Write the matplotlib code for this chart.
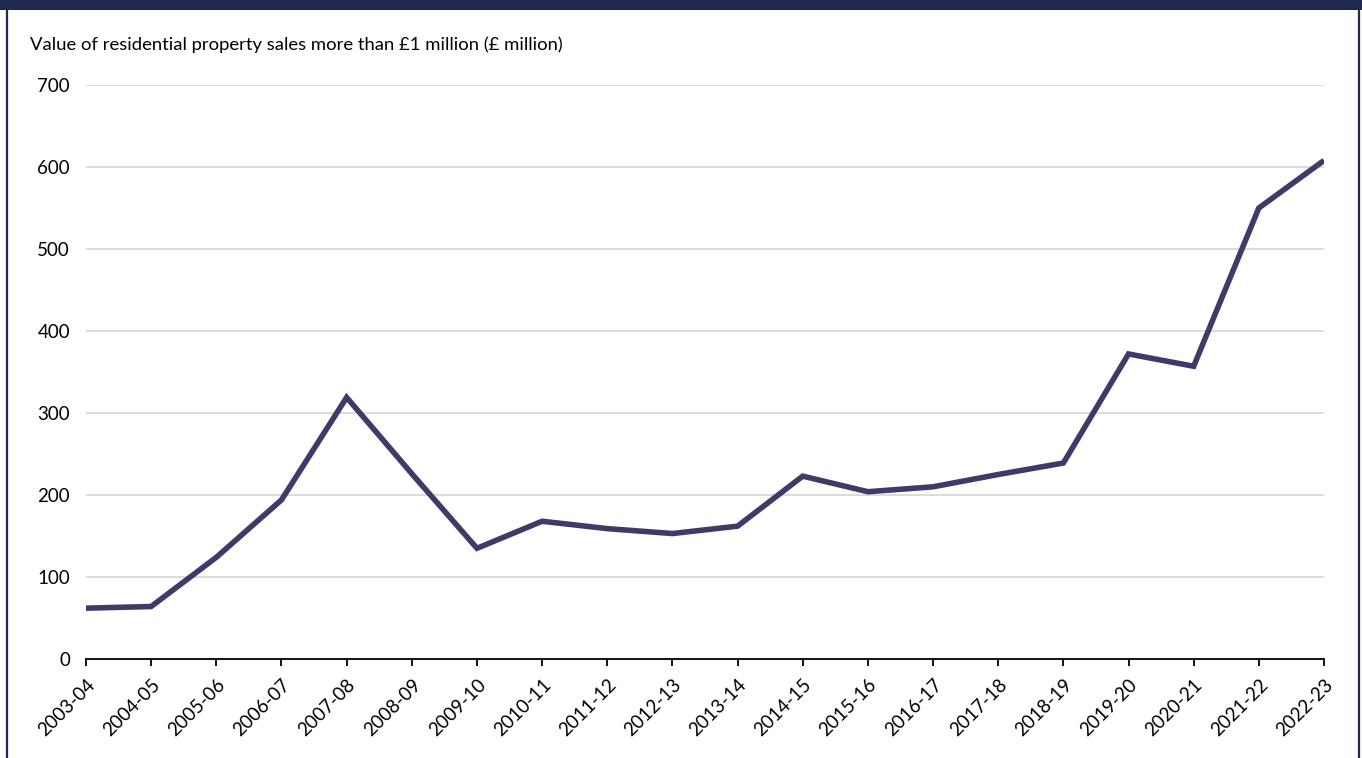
import matplotlib
matplotlib.use("Agg")
import matplotlib.pyplot as plt
from matplotlib.patches import Rectangle
from matplotlib.lines import Line2D

plt.rcParams['font.family'] = ['Lato', 'DejaVu Sans']

years = ["2003-04", "2004-05", "2005-06", "2006-07", "2007-08", "2008-09",
         "2009-10", "2010-11", "2011-12", "2012-13", "2013-14", "2014-15",
         "2015-16", "2016-17", "2017-18", "2018-19", "2019-20", "2020-21",
         "2021-22", "2022-23"]
sales_value = [62, 64, 124, 194, 319, 226, 135, 168, 159, 153, 162, 223,
               204, 210, 225, 239, 372, 357, 550, 608]
y_ticks = [0, 100, 200, 300, 400, 500, 600, 700]

W, H = 1362, 758
fig = plt.figure(figsize=(W / 100, H / 100), dpi=100)
fig.patch.set_facecolor("white")

navy = "#1f2952"
line_col = "#3f3a68"

# header band and side rules of the panel
fig.add_artist(Rectangle((0, 1 - 10 / H), 1, 10 / H, transform=fig.transFigure,
                         facecolor=navy, edgecolor="none"))
fig.add_artist(Line2D([6.5 / W, 6.5 / W], [0, 1 - 10 / H], transform=fig.transFigure,
                      color=navy, lw=1.6))
fig.add_artist(Line2D([1358.5 / W, 1358.5 / W], [0, 1 - 10 / H], transform=fig.transFigure,
                      color=navy, lw=1.6))

left, right = 86 / W, 1324 / W
bottom, top = (H - 659) / H, (H - 85) / H
ax = fig.add_axes([left, bottom, right - left, top - bottom])

x = list(range(len(years)))
ax.plot(x, sales_value, color=line_col, lw=4, solid_joinstyle="miter",
        solid_capstyle="butt", zorder=3)

ax.set_xlim(0, len(years) - 1)
ax.set_ylim(0, 700)
ax.set_yticks(y_ticks)
ax.set_yticklabels([str(v) for v in y_ticks])
ax.set_xticks(x)
ax.set_xticklabels(years, rotation=45, ha="right", rotation_mode="anchor")

ax.grid(axis="y", color="#d9d9d9", lw=1.3, zorder=0)
ax.set_axisbelow(True)
for s in ["top", "right", "left"]:
    ax.spines[s].set_visible(False)
ax.spines["bottom"].set_color("black")
ax.spines["bottom"].set_linewidth(1.3)
ax.spines["bottom"].set_zorder(4)

ax.tick_params(axis="y", length=0, pad=11.5, labelsize=13.5, labelcolor="black")
ax.tick_params(axis="x", length=5, width=1.3, color="black", pad=7,
               labelsize=13.5, labelcolor="black")

fig.text(30 / W, 1 - 45 / H, "Value of residential property sales more than £1 million (£ million)",
         fontsize=13.3, color="black", va="center", ha="left")

fig.savefig("out.png", dpi=100, facecolor="white")
